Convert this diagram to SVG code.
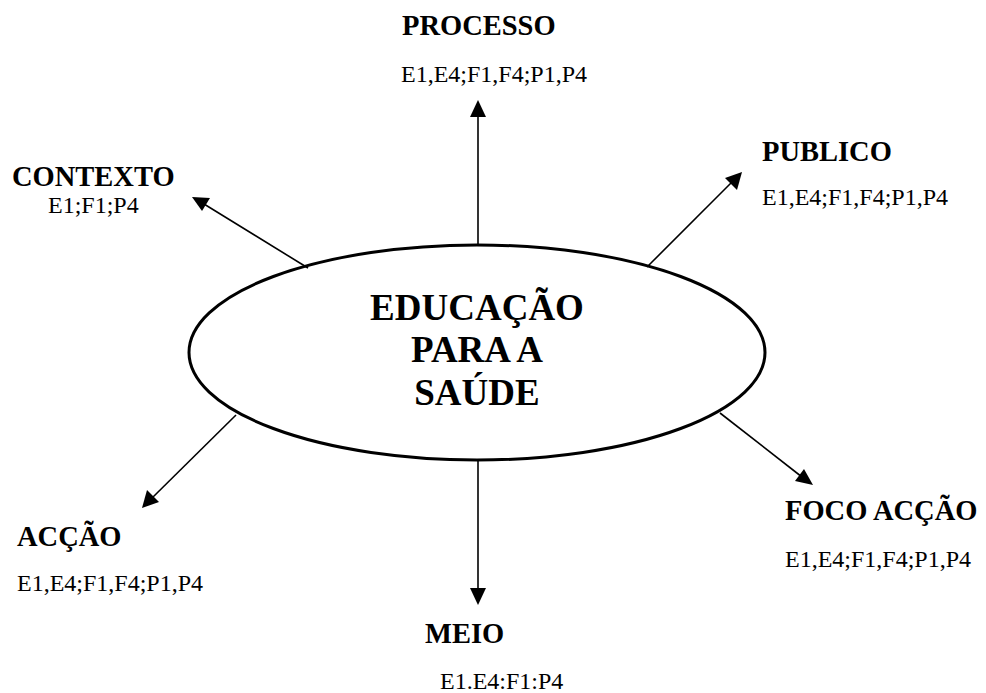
<svg xmlns="http://www.w3.org/2000/svg" width="986" height="693" viewBox="0 0 986 693">
<style>
.t{font-family:"Liberation Serif","Times New Roman",serif;fill:#000}
.h{font-size:28.5px;font-weight:bold}
.c{font-size:24px}
.m{font-size:37px;font-weight:bold;text-anchor:middle}
.ln{stroke:#000;stroke-width:1.6;fill:none}
.hd{fill:#000}
</style>
<rect width="986" height="693" fill="#fff"/>
<g id="connectors">
<line class="ln" x1="478" y1="245" x2="478" y2="112"/>
<path class="hd" d="M478,100 L470,117 L486,117 z"/>
<line class="ln" x1="478" y1="460" x2="478" y2="590"/>
<path class="hd" d="M478,605 L470,588 L486,588 z"/>
<line class="ln" x1="308" y1="268" x2="204" y2="204"/>
<path class="hd" d="M192,197 L210,198 L202,211 z"/>
<line class="ln" x1="647" y1="267" x2="733" y2="181"/>
<path class="hd" d="M742,172 L737,190 L725,178 z"/>
<line class="ln" x1="236" y1="415" x2="151" y2="499"/>
<path class="hd" d="M142,508 L147,490 L159,502 z"/>
<line class="ln" x1="720" y1="413" x2="802" y2="477"/>
<path class="hd" d="M813,485 L795,481 L804,469 z"/>
</g>
<g id="center">
<ellipse cx="477" cy="352.5" rx="288" ry="107.5" fill="none" stroke="#000" stroke-width="3"/>
<text class="t m" x="477" y="320">EDUCAÇÃO</text>
<text class="t m" x="477" y="362">PARA A</text>
<text class="t m" x="477" y="405">SAÚDE</text>
</g>
<g id="processo">
<text class="t h" x="402" y="35">PROCESSO</text>
<text class="t c" x="401" y="82">E1,E4;F1,F4;P1,P4</text>
</g>
<g id="contexto">
<text class="t h" x="12" y="186">CONTEXTO</text>
<text class="t c" x="48" y="213">E1;F1;P4</text>
</g>
<g id="publico">
<text class="t h" x="762" y="161">PUBLICO</text>
<text class="t c" x="762" y="205">E1,E4;F1,F4;P1,P4</text>
</g>
<g id="accao">
<text class="t h" x="17" y="546">ACÇÃO</text>
<text class="t c" x="17" y="591">E1,E4;F1,F4;P1,P4</text>
</g>
<g id="foco-accao">
<text class="t h" x="785" y="520">FOCO ACÇÃO</text>
<text class="t c" x="785" y="567">E1,E4;F1,F4;P1,P4</text>
</g>
<g id="meio">
<text class="t h" x="425" y="643">MEIO</text>
<text class="t c" x="440" y="689">E1.E4:F1:P4</text>
</g>
</svg>
